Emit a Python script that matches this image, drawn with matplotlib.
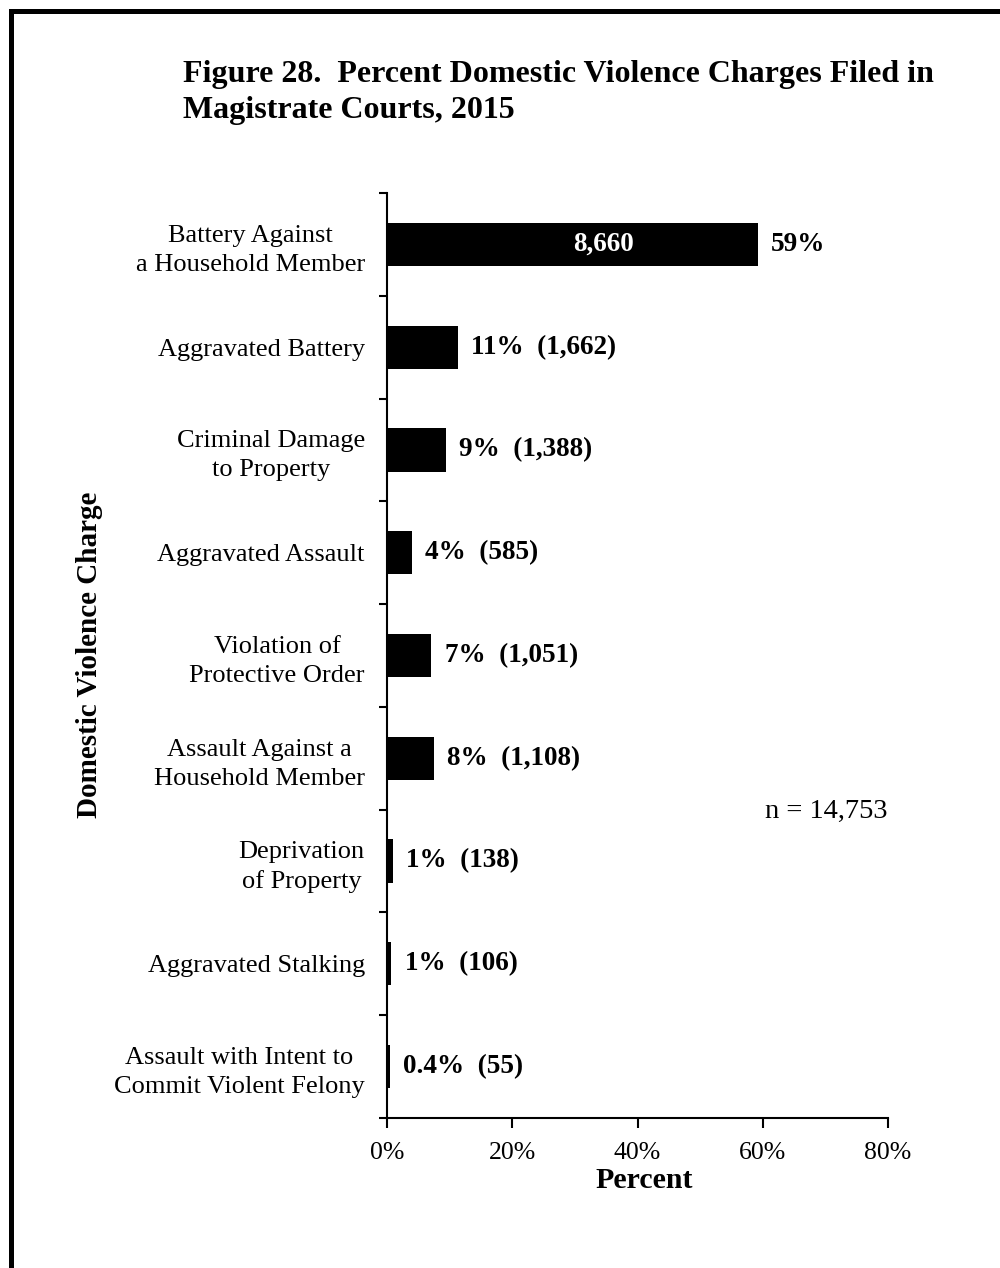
import numpy as np
import matplotlib.pyplot as plt
from matplotlib.patches import Rectangle

# datos
cargos = ['Battery Against\na Household Member', 'Aggravated Battery',
          'Criminal Damage\nto Property', 'Aggravated Assault',
          'Violation of\nProtective Order', 'Assault Against a\nHousehold Member',
          'Deprivation\nof Property', 'Aggravated Stalking',
          'Assault with Intent to\nCommit Violent Felony']
porcentaje = [59.2, 11.3, 9.4, 4.0, 7.1, 7.5, 0.9, 0.7, 0.4]
pct_texto = ['59%', '11%', '9%', '4%', '7%', '8%', '1%', '1%', '0.4%']
cuenta = ['8,660', '1,662', '1,388', '585', '1,051', '1,108', '138', '106', '55']
xticks = [0, 20, 40, 60, 80]

plt.rcParams['font.family'] = ['Liberation Serif', 'DejaVu Serif']

fig = plt.figure(figsize=(10, 12.68), dpi=100)
ax = fig.add_axes([0.387, 0.1183, 0.501, 0.7295])

y = np.arange(len(cargos))
ax.barh(y, porcentaje, height=0.42, color='black')

for i in range(len(cargos)):
    if i == 0:
        # el numero va dentro de la barra, algo a la derecha del centro
        ax.text(porcentaje[i] * 0.585, y[i], cuenta[i], color='white', fontsize=19.5,
                fontweight='bold', ha='center', va='center')
        ax.text(porcentaje[i] + 2.1, y[i], pct_texto[i], fontsize=19.5,
                fontweight='bold', ha='left', va='center')
    else:
        ax.text(porcentaje[i] + 2.1, y[i], pct_texto[i] + '  (' + cuenta[i] + ')',
                fontsize=19.5, fontweight='bold', ha='left', va='center')

ax.set_xlim(0, 80)
ax.set_ylim(len(cargos) - 0.5, -0.5)
ax.set_xticks(xticks)
ax.set_xticklabels([str(t) + '%' for t in xticks], fontsize=18.5)
ax.set_yticks(y)
ax.set_yticklabels(cargos, fontsize=19, multialignment='center', linespacing=1.4)
ax.set_yticks(np.arange(-0.5, len(cargos), 1), minor=True)
ax.tick_params(axis='y', which='major', length=0, pad=16)
ax.tick_params(axis='y', which='minor', length=6, width=1.5, direction='out')
ax.tick_params(axis='x', length=7, width=1.5, direction='out', pad=10)

for lado in ['top', 'right']:
    ax.spines[lado].set_visible(False)
for lado in ['left', 'bottom']:
    ax.spines[lado].set_linewidth(1.5)

ax.text(0.876, 0.331, 'n = 14,753', transform=ax.transAxes, fontsize=20.5,
        ha='center', va='center')

fig.text(0.090, 0.4834, 'Domestic Violence Charge', rotation=90, fontsize=21,
         fontweight='bold', ha='center', va='center')
fig.text(0.644, 0.0694, 'Percent', fontsize=21.5, fontweight='bold',
         ha='center', va='center')

fig.text(0.183, 0.9353, 'Figure 28.  Percent Domestic Violence Charges Filed in',
         fontsize=23, fontweight='bold', ha='left', va='baseline')
fig.text(0.183, 0.9069, 'Magistrate Courts, 2015',
         fontsize=23, fontweight='bold', ha='left', va='baseline')

# borde negro (solo se ve arriba y a la izquierda)
fig.patches.append(Rectangle((0.0105, -0.1), 1.2, 1.0917, transform=fig.transFigure,
                             fill=False, edgecolor='black', linewidth=3.6))

plt.savefig('out.png', dpi=100)
